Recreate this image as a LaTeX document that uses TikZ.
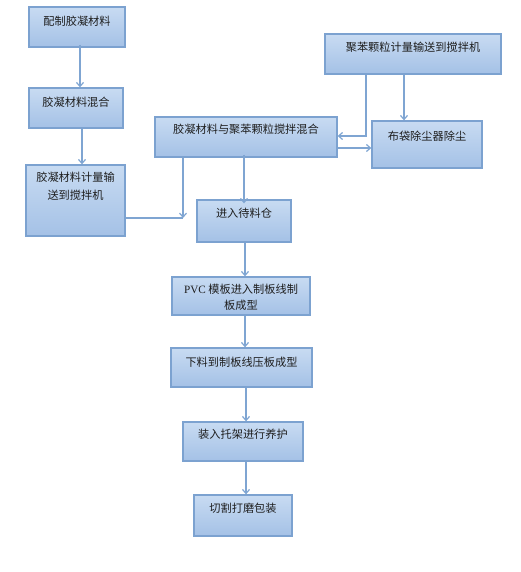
\documentclass[tikz,border=0pt]{standalone}
\usepackage{fontspec}
\setmainfont{Noto Sans CJK SC}
\newfontfamily\latf{Liberation Serif}
\usetikzlibrary{arrows.meta,calc}
\definecolor{boxtop}{HTML}{C8DBF2}
\definecolor{boxbot}{HTML}{A4C1E6}
\definecolor{boxline}{HTML}{7CA2D0}
\definecolor{arrline}{HTML}{7FA5D2}
\definecolor{txtc}{HTML}{1E1E1E}
\tikzset{
  box/.style={draw=boxline, line width=1.3pt, top color=boxtop, bottom color=boxbot, inner sep=0pt},
  txt/.style={font=\fontsize{11.2}{18}\selectfont, text=txtc, inner sep=0pt, align=center},
  arr/.style={draw=arrline, line width=1.2pt, -{Straight Barb[length=4pt,width=7pt]}},
  ln/.style={draw=arrline, line width=1.2pt}
}
\begin{document}
\begin{tikzpicture}[x=1pt,y=-1pt]
\useasboundingbox (0,0) rectangle (520,572);
% boxes
\node[box, minimum width=96, minimum height=40] (b1) at (77,27) {};
\node[txt] (t1) at (77,21) {配制胶凝材料};
\node[box, minimum width=94, minimum height=40] (b2) at (76,108) {};
\node[txt] (t2) at (76,102) {胶凝材料混合};
\node[box, minimum width=99, minimum height=71] (b3) at (75.5,200.5) {};
\node[txt, anchor=north] (t3) at (75.5,172) {胶凝材料计量输\\送到搅拌机};
\node[box, minimum width=182, minimum height=40] (mix) at (246,137) {};
\node[txt] (tm) at (246,129) {胶凝材料与聚苯颗粒搅拌混合};
\node[box, minimum width=176, minimum height=40] (ps) at (413,54) {};
\node[txt] (tp) at (413,47) {聚苯颗粒计量输送到搅拌机};
\node[box, minimum width=110, minimum height=47] (dust) at (427,144.5) {};
\node[txt] (td) at (427,136) {布袋除尘器除尘};
\node[box, minimum width=94, minimum height=42] (bin) at (244,221) {};
\node[txt] (tb) at (244,213) {进入待料仓};
\node[box, minimum width=138, minimum height=38] (pvc) at (241,296) {};
\node[txt, anchor=north, font=\fontsize{11.2}{16}\selectfont] (tv) at (241,283.5) {{\latf PVC} 模板进入制板线制\\板成型};
\node[box, minimum width=141, minimum height=39] (xia) at (241.5,367.5) {};
\node[txt] (tx) at (241.5,362) {下料到制板线压板成型};
\node[box, minimum width=120, minimum height=39] (zh) at (243,441.5) {};
\node[txt] (tz) at (243,434) {装入托架进行养护};
\node[box, minimum width=98, minimum height=41] (qie) at (243,515.5) {};
\node[txt] (tq) at (243,508) {切割打磨包装};
% connectors
\draw[arr] ([xshift=3pt,yshift=3pt]b1.south) -- ([xshift=3pt]b1.south |- b2.north);
\draw[arr] ([xshift=6pt]b2.south) -- ([xshift=6pt]b2.south |- b3.north);
\coordinate (j) at (183,218);
\draw[ln] (b3.east |- j) -- (j);
\draw[arr] (mix.south -| j) -- (j);
\coordinate (k) at (366,136);
\draw[arr] (ps.south -| k) -- (k) -- (mix.east |- k);
\draw[arr] (ps.south -| 404,0) -- (dust.north -| 404,0);
\draw[arr] (mix.east |- 0,148) -- (dust.west |- 0,148);
\draw[arr] ([yshift=3pt]mix.south -| bin.north) -- ([yshift=-4pt]bin.north);
\draw[arr] ([xshift=1pt]bin.south) -- ([xshift=1pt]bin.south |- pvc.north);
\draw[arr] ([xshift=4pt]pvc.south) -- ([xshift=4pt]pvc.south |- xia.north);
\draw[arr] ([xshift=4.5pt]xia.south) -- ([xshift=4.5pt]xia.south |- zh.north);
\draw[arr] ([xshift=3pt]zh.south) -- ([xshift=3pt]zh.south |- qie.north);
\end{tikzpicture}
\end{document}
